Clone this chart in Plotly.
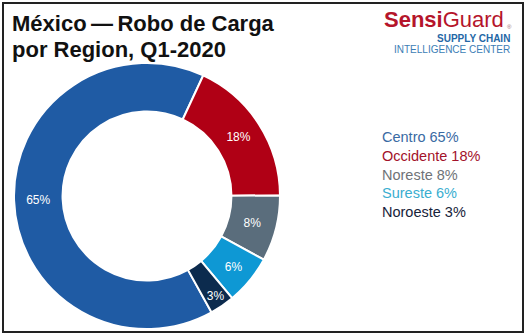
import plotly.graph_objects as go

W, H = 527, 335

regions = ["Centro", "Occidente", "Noreste", "Sureste", "Noroeste"]
values = [65, 18, 8, 6, 3]
slice_colors = ["#1f5ba4", "#b00015", "#5a6d7c", "#0e98d4", "#0c2b4e"]
legend_colors = ["#3a6aa3", "#a3122a", "#6f7377", "#3aaed0", "#17233a"]
title_lines = ["México\u2009\u2014\u2009Robo de Carga", "por Region, Q1-2020"]

def px(x):
    return x / W

def py(y):
    return 1 - y / H

fig = go.Figure()
fig.add_trace(go.Pie(
    labels=regions,
    values=values,
    sort=False,
    direction="clockwise",
    rotation=151,
    hole=0.635,
    marker=dict(colors=slice_colors, line=dict(color="white", width=2)),
    texttemplate="%{percent:.0%}",
    textinfo="percent",
    textposition="inside",
    insidetextorientation="horizontal",
    textfont=dict(color="white", size=12, family="Liberation Sans, Arial, sans-serif"),
    showlegend=False,
    hoverinfo="label+percent",
    domain=dict(x=[px(14), px(280)], y=[py(329), py(63)]),
))

anns = []
fam = "Liberation Sans, Arial, sans-serif"
anns.append(dict(text="<b>" + title_lines[0] + "</b>", x=px(10), y=py(24), xanchor="left", yanchor="middle",
                 font=dict(size=22, color="#111111", family=fam)))
anns.append(dict(text="<b>" + title_lines[1] + "</b>", x=px(10), y=py(50), xanchor="left", yanchor="middle",
                 font=dict(size=22, color="#111111", family=fam)))
# logo
anns.append(dict(text="<b>Sensi</b>Guard", x=px(506), y=py(20), xanchor="right", yanchor="middle",
                 font=dict(size=22, color="#b5152b", family=fam)))
anns.append(dict(text="®", x=px(505), y=py(27), xanchor="left", yanchor="middle",
                 font=dict(size=6, color="#9a6a70", family=fam)))
anns.append(dict(text="<b>SUPPLY CHAIN</b>", x=px(512), y=py(39), xanchor="right", yanchor="middle",
                 font=dict(size=10, color="#2467a6", family=fam)))
anns.append(dict(text="INTELLIGENCE CENTER", x=px(512), y=py(49), xanchor="right", yanchor="middle",
                 font=dict(size=10, color="#3b7db5", family=fam)))

# legend
for i, (r, v, c) in enumerate(zip(regions, values, legend_colors)):
    anns.append(dict(text=f"{r} {v}%", x=px(380), y=py(137 + i * 18.8), xanchor="left", yanchor="middle",
                     font=dict(size=14.5, color=c, family=fam)))

for a in anns:
    a.update(xref="paper", yref="paper", showarrow=False)

fig.update_layout(
    width=W, height=H,
    margin=dict(l=0, r=0, t=0, b=0),
    paper_bgcolor="white",
    plot_bgcolor="white",
    annotations=anns,
    shapes=[dict(type="rect", xref="paper", yref="paper", x0=px(3), x1=px(523), y0=py(332), y1=py(3),
                 line=dict(color="#222222", width=2))],
)

fig.write_html("out.html")
